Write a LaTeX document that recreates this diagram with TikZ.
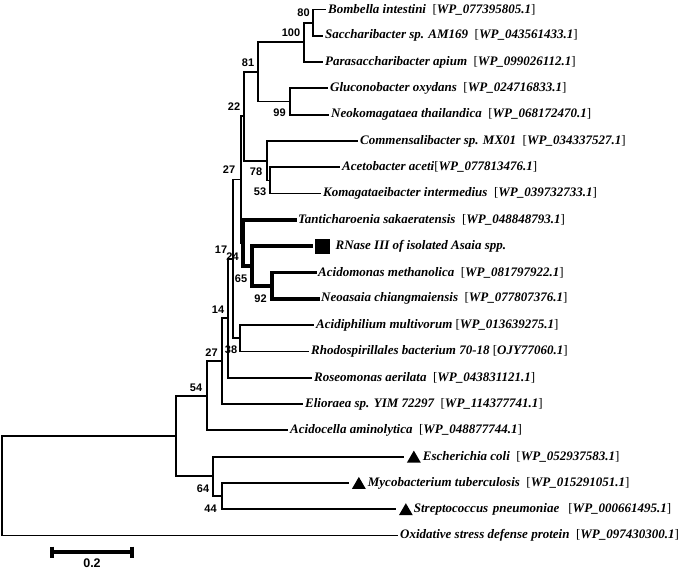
\documentclass[tikz,border=0pt]{standalone}
\usepackage{fontspec}
\setmainfont{Liberation Serif}
\newfontfamily\numfont{Liberation Sans}
\usetikzlibrary{shapes.geometric,positioning}

\newcommand{\acc}[1]{{\normalfont[}#1{\normalfont]}}

\begin{document}
\begin{tikzpicture}[x=1pt, y=-1pt,
    branch/.style={line width=1.8pt, line cap=rect, line join=miter},
    hbranch/.style={line width=3.8pt, line cap=rect, line join=miter},
    taxon/.style={font=\fontsize{13}{15}\selectfont\bfseries\itshape, inner sep=0pt},
    boot/.style={font=\numfont\fontsize{11}{13}\selectfont\bfseries, inner sep=0pt},
    query/.style={rectangle, fill=black, minimum size=15pt, inner sep=0pt},
    refmark/.style={regular polygon, regular polygon sides=3, fill=black, minimum size=16pt, inner sep=0pt},
    scalebar/.style={line width=3.5pt},
]
\useasboundingbox (0,0) rectangle (685,569);

% leaves (branch tips)
\coordinate (l1) at (325,9.5);
\coordinate (l2) at (322,35.8);
\coordinate (l3) at (322,62.1);
\coordinate (l4) at (327,88.4);
\coordinate (l5) at (328,114.7);
\coordinate (l6) at (357,141.0);
\coordinate (l7) at (339,167.3);
\coordinate (l8) at (320,193.6);
\coordinate (l9) at (295,219.9);
\coordinate (l10) at (311,246.2);
\coordinate (l11) at (315,272.5);
\coordinate (l12) at (318,298.8);
\coordinate (l13) at (313,325.1);
\coordinate (l14) at (308,351.4);
\coordinate (l15) at (311,377.7);
\coordinate (l16) at (302,404.0);
\coordinate (l17) at (287,430.3);
\coordinate (l18) at (403,456.6);
\coordinate (l19) at (348,482.9);
\coordinate (l20) at (395,509.2);
\coordinate (l21) at (397,535.5);

% internal nodes
\coordinate (n80) at (313,22.65);
\coordinate (n100) at (304,42.4);
\coordinate (n99) at (290,101.55);
\coordinate (n81) at (258,71.95);
\coordinate (n53) at (270,180.45);
\coordinate (n78) at (267,160.7);
\coordinate (n22) at (244,116.3);
\coordinate (n92) at (272,285.65);
\coordinate (n65) at (252,265.9);
\coordinate (n24) at (243,242.9);
\coordinate (n27a) at (241,179.6);
\coordinate (n38) at (240,338.25);
\coordinate (n17) at (233,258.9);
\coordinate (n14) at (228,318.3);
\coordinate (n27b) at (222,361.15);
\coordinate (n54) at (207,395.7);
\coordinate (n44) at (222,496.05);
\coordinate (n64) at (213,476.3);
\coordinate (nin) at (176,436);
\coordinate (root) at (2,485.75);

\draw[branch] (n80) |- (l1) (n80) |- (l2);
\draw[branch] (n100) |- (n80) (n100) |- (l3);
\draw[branch] (n99) |- (l4) (n99) |- (l5);
\draw[branch] (n81) |- (n100) (n81) |- (n99);
\draw[branch] (n53) |- (l7) (n53) |- (l8);
\draw[branch] (n78) |- (l6) (n78) |- (n53);
\draw[branch] (n22) |- (n81) (n22) |- (n78);
\draw[branch] (n27a) |- (n22) (n27a) |- (n24);
\draw[hbranch] (n92) |- (l11) (n92) |- (l12);
\draw[hbranch] (n65) |- (l10) (n65) |- (n92);
\draw[hbranch] (n24) |- (l9) (n24) |- (n65);
\draw[branch] (n38) |- (l13) (n38) |- (l14);
\draw[branch] (n17) |- (n27a) (n17) |- (n38);
\draw[branch] (n14) |- (n17) (n14) |- (l15);
\draw[branch] (n27b) |- (n14) (n27b) |- (l16);
\draw[branch] (n54) |- (n27b) (n54) |- (l17);
\draw[branch] (n44) |- (l19) (n44) |- (l20);
\draw[branch] (n64) |- (l18) (n64) |- (n44);
\draw[branch] (nin) |- (n54) (nin) |- (n64);
\draw[branch] (root) |- (nin) (root) |- (l21);

% taxa
\node[taxon, right=3pt of l1] (t1) {Bombella intestini\enspace\acc{WP\_077395805.1}};
\node[taxon, right=3pt of l2] (t2) {Saccharibacter sp. AM169\enspace\acc{WP\_043561433.1}};
\node[taxon, right=3pt of l3] (t3) {Parasaccharibacter apium\enspace\acc{WP\_099026112.1}};
\node[taxon, right=3pt of l4] (t4) {Gluconobacter oxydans\enspace\acc{WP\_024716833.1}};
\node[taxon, right=3pt of l5] (t5) {Neokomagataea thailandica\enspace\acc{WP\_068172470.1}};
\node[taxon, right=3pt of l6] (t6) {Commensalibacter sp. MX01\enspace\acc{WP\_034337527.1}};
\node[taxon, right=3pt of l7] (t7) {Acetobacter aceti\acc{WP\_077813476.1}};
\node[taxon, right=3pt of l8] (t8) {Komagataeibacter intermedius\enspace\acc{WP\_039732733.1}};
\node[taxon, right=3pt of l9] (t9) {Tanticharoenia sakaeratensis\enspace\acc{WP\_048848793.1}};
\node[query, right=4pt of l10] (m10) {};
\node[taxon, right=5pt of m10] (t10) {RNase III of isolated Asaia spp.};
\node[taxon, right=3pt of l11] (t11) {Acidomonas methanolica\enspace\acc{WP\_081797922.1}};
\node[taxon, right=3pt of l12] (t12) {Neoasaia chiangmaiensis\enspace\acc{WP\_077807376.1}};
\node[taxon, right=3pt of l13] (t13) {Acidiphilium multivorum \acc{WP\_013639275.1}};
\node[taxon, right=3pt of l14] (t14) {Rhodospirillales bacterium 70-18 \acc{OJY77060.1}};
\node[taxon, right=3pt of l15] (t15) {Roseomonas aerilata\enspace\acc{WP\_043831121.1}};
\node[taxon, right=3pt of l16] (t16) {Elioraea sp. YIM 72297\enspace\acc{WP\_114377741.1}};
\node[taxon, right=3pt of l17] (t17) {Acidocella aminolytica\enspace\acc{WP\_048877744.1}};
\node[refmark, right=6pt of l18, yshift=-2pt] (m18) {};
\node[taxon, right=4pt of m18, yshift=2pt] (t18) {Escherichia coli\enspace\acc{WP\_052937583.1}};
\node[refmark, right=6pt of l19, yshift=-2pt] (m19) {};
\node[taxon, right=4pt of m19, yshift=2pt] (t19) {Mycobacterium tuberculosis\enspace\acc{WP\_015291051.1}};
\node[refmark, right=6pt of l20, yshift=-2pt] (m20) {};
\node[taxon, right=3pt of m20, yshift=2pt] (t20) {Streptococcus\hspace{0.35em}pneumoniae\hspace{0.7em}\acc{WP\_000661495.1}};
\node[taxon, right=3pt of l21] (t21) {Oxidative stress defense protein\enspace\acc{WP\_097430300.1}};

% bootstrap values
\node[boot] (b80) at (303.5,13) {80};
\node[boot] (b100) at (291,33) {100};
\node[boot] (b81) at (248,63) {81};
\node[boot] (b22) at (234,107) {22};
\node[boot] (b99) at (279.5,113) {99};
\node[boot] (b27a) at (229,170) {27};
\node[boot] (b78) at (256,171.5) {78};
\node[boot] (b53) at (260,191.5) {53};
\node[boot] (b17) at (221,250) {17};
\node[boot] (b24) at (232.5,256.5) {24};
\node[boot] (b65) at (241,279) {65};
\node[boot] (b92) at (260.5,298.5) {92};
\node[boot] (b14) at (218,310) {14};
\node[boot] (b27b) at (211.5,352.5) {27};
\node[boot] (b38) at (231,349.5) {38};
\node[boot] (b54) at (196,387.5) {54};
\node[boot] (b64) at (203,488.5) {64};
\node[boot] (b44) at (210.5,508.5) {44};

% scale
\coordinate (sb0) at (52,552);
\coordinate (sb1) at (132,552);
\draw[scalebar] (sb0) -- (sb1);
\draw[scalebar] ([yshift=5.5pt]sb0) -- ([yshift=-5.5pt]sb0);
\draw[scalebar] ([yshift=5.5pt]sb1) -- ([yshift=-5.5pt]sb1);
\node[boot, font=\numfont\fontsize{12.5}{14}\selectfont\bfseries] (sbl) at (92,563) {0.2};
\end{tikzpicture}
\end{document}
